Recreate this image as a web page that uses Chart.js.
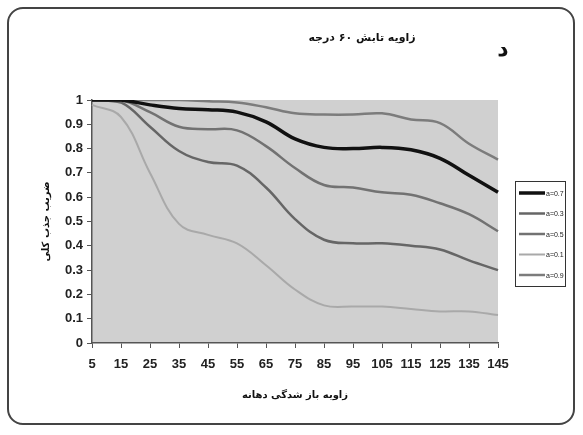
<!DOCTYPE html>
<html><head><meta charset="utf-8">
<script src="https://cdn.jsdelivr.net/npm/chart.js@4"></script>
<style>
html,body{margin:0;padding:0;background:#fff;}
#wrap{position:relative;width:583px;height:435px;}
#frame{position:absolute;left:7px;top:7px;width:568px;height:418px;border:2px solid #444;border-radius:16px;box-sizing:border-box;pointer-events:none;}
canvas{position:absolute;left:0;top:0;}
</style></head>
<body>
<div id="wrap"><canvas id="c" width="583" height="435"></canvas><div id="frame"></div></div>
<script>
const categories = ['5','15','25','35','45','55','65','75','85','95','105','115','125','135','145'];
const seriesLabels = ['a=0.7','a=0.3','a=0.5','a=0.1','a=0.9'];
const a07 = [1,1,0.98,0.965,0.96,0.95,0.91,0.84,0.805,0.80,0.805,0.795,0.76,0.69,0.62];
const a03 = [1,0.99,0.89,0.79,0.745,0.73,0.64,0.51,0.425,0.41,0.41,0.40,0.385,0.34,0.30];
const a05 = [1,1,0.95,0.89,0.88,0.875,0.81,0.72,0.65,0.64,0.62,0.61,0.575,0.53,0.46];
const a01 = [0.98,0.93,0.70,0.49,0.445,0.41,0.32,0.22,0.155,0.15,0.15,0.14,0.13,0.13,0.115];
const a09 = [1,1,1,1,0.995,0.99,0.97,0.945,0.94,0.94,0.945,0.92,0.905,0.82,0.755];
const yTicks = [0,0.1,0.2,0.3,0.4,0.5,0.6,0.7,0.8,0.9,1];
const titleText = 'زاویه تابش ۶۰ درجه';
const cornerLetter = 'د';
const xTitle = 'زاویه باز شدگی دهانه';
const yTitle = 'ضریب جذب کلی';

const colors = ['#111111','#666666','#727272','#a9a9a9','#7c7c7c'];
const widths = [3.5,2.5,2.5,2,2.5];
const values = [a07,a03,a05,a01,a09];

const bgPlugin = {
  id:'bg',
  beforeDraw(chart){
    const {ctx, chartArea:a} = chart;
    ctx.save(); ctx.fillStyle='#d0d0d0';
    ctx.fillRect(a.left,a.top,a.right-a.left,a.bottom-a.top);
    ctx.restore();
  },
  afterDraw(chart){
    const ctx = chart.ctx;
    ctx.save();
    ctx.fillStyle='#111';
    ctx.textAlign='center'; ctx.textBaseline='middle';
    ctx.font='bold 11px "DejaVu Sans"';
    ctx.fillText(titleText, 362, 38);
    ctx.font='bold 22px "DejaVu Sans"';
    ctx.fillText(cornerLetter, 503, 50);
    // legend
    const lx=515, ly=181, lw=50, lh=105;
    ctx.fillStyle='#fff'; ctx.fillRect(lx,ly,lw,lh);
    ctx.strokeStyle='#333'; ctx.lineWidth=1; ctx.strokeRect(lx+0.5,ly+0.5,lw,lh);
    chart.data.datasets.forEach((ds,i)=>{
      const y = ly+12+i*20.5;
      ctx.strokeStyle=ds.borderColor; ctx.lineWidth=ds.borderWidth;
      ctx.beginPath(); ctx.moveTo(lx+4,y); ctx.lineTo(lx+30,y); ctx.stroke();
      ctx.fillStyle='#222'; ctx.font='7px "Liberation Sans"';
      ctx.textAlign='left';
      ctx.fillText(ds.label, lx+31, y+1);
    });
    ctx.restore();
  }
};

new Chart(document.getElementById('c'),{
  type:'line',
  data:{
    labels:categories,
    datasets:values.map((v,i)=>({label:seriesLabels[i],data:v,borderColor:colors[i],backgroundColor:colors[i],borderWidth:widths[i],pointRadius:0,tension:0.4,fill:false}))
  },
  options:{
    responsive:false,animation:false,
    layout:{padding:{left:40,right:85,top:100,bottom:34}},
    plugins:{legend:{display:false},tooltip:{enabled:false}},
    scales:{
      x:{
        grid:{display:true,drawOnChartArea:false,tickLength:5,color:'#555'},
        border:{color:'#555',width:1.5},
        ticks:{color:'#222',font:{family:'Liberation Sans',size:13,weight:'600'},maxRotation:0,autoSkip:false,padding:9},
        title:{display:true,text:xTitle,color:'#111',font:{family:'DejaVu Sans',size:10,weight:'bold'},padding:{top:6,bottom:0}},
        afterFit(s){s.height=58;}
      },
      y:{
        min:0,max:1,
        afterBuildTicks(s){s.ticks=yTicks.map(v=>({value:v}));},
        grid:{display:true,drawOnChartArea:false,tickLength:5,color:'#555'},
        border:{color:'#555',width:1.5},
        ticks:{color:'#222',font:{family:'Liberation Sans',size:13,weight:'600'},padding:4,callback:v=>String(v)},
        title:{display:true,text:yTitle,color:'#111',font:{family:'DejaVu Sans',size:10,weight:'bold'},padding:{top:0,bottom:4}},
        afterFit(s){s.width=52;}
      }
    }
  },
  plugins:[bgPlugin]
});
</script>
</body></html>
